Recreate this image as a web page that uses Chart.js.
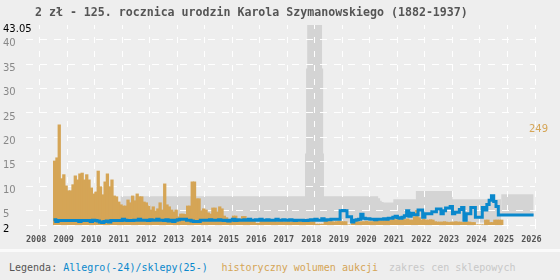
<!DOCTYPE html>
<html><head><meta charset="utf-8">
<script src="https://cdn.jsdelivr.net/npm/chart.js@4/dist/chart.umd.min.js"></script>
<style>
html,body{margin:0;padding:0;background:#eeeeee;}
#wrap{position:relative;width:560px;height:280px;overflow:hidden;background:#eeeeee;}
#c{position:absolute;left:0;top:0;}
#title{position:absolute;left:35px;top:5px;font:bold 11.6px/14px "DejaVu Sans Mono",monospace;color:#555;white-space:pre;}
#strip{position:absolute;left:0;top:249px;width:560px;height:3px;background:#fafafa;}
.lg{position:absolute;top:262px;font:10px/12px "DejaVu Sans Mono",monospace;white-space:pre;}
</style></head><body>
<div id="wrap">
<canvas id="c" width="560" height="249"></canvas>
<div id="title">2 zł - 125. rocznica urodzin Karola Szymanowskiego (1882-1937)</div>
<div id="strip"></div>
<div class="lg" style="left:9px;color:#555">Legenda: <span style="color:#0a88cc">Allegro(-24)/sklepy(25-)</span></div>
<div class="lg" style="left:221.5px;color:#d5a556">historyczny wolumen aukcji</div>
<div class="lg" style="left:389px;color:#c8c8c8">zakres cen sklepowych</div>
</div>
<script>
// ---- data ----
const yearTicks = [2008,2009,2010,2011,2012,2013,2014,2015,2016,2017,2018,2019,2020,2021,2022,2023,2024,2025,2026];
const priceTicks = [2,5,10,15,20,25,30,35,40,43.05];
const volumeTicks = [249];
const firstMonthYear = 2009; // monthly series start January 2009

// auction volume per month, 2009-01 .. 2025-04
const auctionVolume = [
  159,167,249,115,125,97,85,85,100,122,112,127,   // 2009
  129,112,125,112,92,77,82,134,95,75,107,127,     // 2010
  95,112,72,70,57,50,47,47,62,55,72,60,           // 2011
  77,70,70,57,55,47,37,45,35,40,55,37,            // 2012
  102,50,45,37,32,37,20,27,27,26,47,47,           // 2013
  107,107,65,65,35,40,37,30,27,42,42,32,          // 2014
  45,40,22,18,10,10,22,22,12,12,21,21,            // 2015
  10,10,10,10,4,4,10,10,10,10,10,10,              // 2016
  9,7,8,10,7,8,9,6,8,9,7,8,                       // 2017
  8,7,9,8,8,8,2,2,2,2,8,8,                        // 2018
  8,8,7,8,9,8,8,8,0,0,8,8,                        // 2019
  8,7,8,8,9,8,8,8,10,10,10,10,                    // 2020
  10,12,10,12,15,12,14,12,15,13,15,12,            // 2021
  12,20,36,18,12,14,12,12,13,12,8,7,              // 2022
  7,7,8,7,6,7,7,8,7,7,6,7,                        // 2023
  7,7,6,6,0,0,0,0,12,12,6,6,                      // 2024
  12,12,12,12                                     // 2025
];

// Allegro price per month, 2009-01 .. 2025-03
const allegroPrice = [
  3.1,3.1,2.7,2.9,2.9,2.9,2.9,2.9,2.9,2.9,2.9,2.9,
  2.7,2.9,2.9,2.9,2.9,2.7,3.0,2.9,2.8,2.6,2.5,2.7,
  2.8,2.6,2.9,2.9,2.9,2.9,2.9,3.2,3.0,2.9,2.9,2.9,
  3.0,3.0,3.2,3.0,3.0,3.0,2.9,3.1,3.0,3.0,3.2,3.0,
  3.0,2.9,3.1,2.8,3.0,2.7,3.0,3.1,3.2,3.2,3.2,3.0,
  3.0,2.8,2.7,2.7,2.7,3.0,3.0,3.0,3.0,3.1,3.0,3.0,
  3.0,3.1,3.0,2.9,3.0,2.8,3.0,3.2,2.9,3.1,3.0,3.0,
  3.1,3.0,3.2,3.0,3.0,3.1,3.0,3.2,3.0,3.0,3.1,3.0,
  3.0,3.0,3.2,3.0,3.0,3.1,3.0,3.0,3.1,3.0,2.9,3.0,
  3.0,3.0,2.9,2.9,3.0,3.1,3.0,3.2,3.0,3.0,3.3,3.0,
  3.1,3.1,3.2,3.2,3.2,3.2,4.9,5.0,4.9,3.7,3.7,2.6,
  3.0,3.1,3.2,4.2,3.4,3.3,3.3,3.2,3.2,3.1,3.2,3.2,
  3.2,3.3,3.2,3.4,3.4,3.6,3.8,3.5,3.4,3.6,3.9,4.9,
  3.8,4.4,4.1,4.1,5.1,5.1,3.6,4.3,4.3,4.3,4.7,4.7,
  5.3,5.3,4.3,4.9,5.5,5.5,5.8,4.3,4.6,4.6,5.2,5.6,
  3.0,4.3,4.3,5.6,5.6,3.6,3.6,3.6,5.6,5.1,6.2,7.1,
  8.0,6.8,5.8
];

// shop price (2025 onward)
const shopX = [2025.25, 2026.45];
const shopPrice = [4.05, 4.05];

// shop price range band: upper edge (each value holds until the next x)
const bandX   = [2011.43,2018.14,2018.18,2018.22,2018.76,2018.80,2018.83,2020.80,2020.87,2020.93,2021.00,2021.35,2022.17,2023.50,2025.27,2026.45];
const bandMax = [7.9,   16.7,   34.1,   43.05,  34.1,   16.7,   7.9,    7.5,    7.0,    6.7,    6.6,    7.3,    9.0,    7.3,    8.3,    8.3];
// lower edge of the band, per period starting at bandFloorX
const bandFloorX = [2011.43, 2025.27];
const bandFloor  = [2.5, 4.05];

// ---- build datasets ----
const barPoints = auctionVolume.map((v,i)=>({x: firstMonthYear + (i+0.5)/12, y: v}));
const linePoints = allegroPrice.map((v,i)=>({x: firstMonthYear + i/12, y: v}))
  .concat(shopX.map((x,i)=>({x, y: shopPrice[i]})));

const BLUE = '#0a88cc', ORANGE = '#d5a556', GRAY = '#d4d4d4';

function bandPart(k) {
  const from = bandFloorX[k];
  const to = k + 1 < bandFloorX.length ? bandFloorX[k+1] : Infinity;
  const pts = [];
  for (let i = 0; i < bandX.length; i++) {
    if (bandX[i] < from || bandX[i] > to) continue;
    pts.push({x: bandX[i], y: bandMax[i]});
    if (i < bandX.length - 1 && bandX[i+1] <= to) pts.push({x: bandX[i+1], y: bandMax[i]});
  }
  return {type: 'line', data: pts, borderWidth: 0, borderDash: [4, 4], borderColor: 'rgba(0,0,0,0)',
          pointRadius: 0, tension: 0, fill: {value: bandFloor[k]}, backgroundColor: GRAY, yAxisID: 'y'};
}
const bandDatasets = bandFloorX.map((_, k) => bandPart(k));

new Chart(document.getElementById('c'), {
  type: 'line',
  data: {
    datasets: [
      {type:'line', data: linePoints, borderColor: BLUE, borderWidth: 3, pointRadius: 0, stepped: 'after', fill: false, yAxisID: 'y', borderCapStyle:'butt', borderJoinStyle:'miter'},
      {type:'bar', data: barPoints, backgroundColor: ORANGE, borderWidth: 0, barPercentage: 1, categoryPercentage: 1, inflateAmount: 0.5, yAxisID: 'y2', grouped: false}
    ].concat(bandDatasets)
  },
  options: {
    responsive: false,
    animation: false,
    events: [],
    layout: {padding: {top: 25, left: 3, right: 0, bottom: 0}},
    plugins: {legend: {display: false}, tooltip: {enabled: false}, title: {display: false}, filler: {drawTime: 'beforeDraw'}},
    scales: {
      x: {
        type: 'linear', min: 2008, max: 2026.5, offset: false,
        afterBuildTicks: s => { s.ticks = yearTicks.map(v => ({value: v})); },
        afterFit: s => { s.height = 24; },
        grid: {color: '#ffffff', lineWidth: 1, drawTicks: true, tickLength: 4, tickBorderDash: [], tickColor: '#ffffff'},
        border: {display: false, dash: [6, 8], dashOffset: 2},
        ticks: {align: 'start', padding: 6, maxRotation: 0, autoSkip: false, color: '#555',
          font: {family: 'DejaVu Sans Mono', size: 8.5, weight: 'bold'}, callback: v => String(v)}
      },
      y: {
        type: 'linear', position: 'left', min: 2, max: 43.05,
        afterBuildTicks: s => { s.ticks = priceTicks.map(v => ({value: v})); },
        afterFit: s => { s.width = 23; },
        grid: {color: c => (c.tick && c.tick.value === 43.05) ? 'rgba(0,0,0,0)' : '#ffffff', lineWidth: 1, drawTicks: false},
        border: {display: false, dash: [7, 7]},
        ticks: {mirror: true, crossAlign: 'near', labelOffset: 4, padding: -23, autoSkip: false,
          font: {family: 'DejaVu Sans', size: 10},
          color: c => (c.tick.value === 43.05 || c.tick.value === 2) ? '#000' : '#888',
          callback: v => String(v)}
      },
      y2: {
        type: 'linear', position: 'right', min: 0, max: 498,
        afterBuildTicks: s => { s.ticks = volumeTicks.map(v => ({value: v})); },
        afterFit: s => { s.width = 25; },
        grid: {display: false, drawTicks: false},
        border: {display: false},
        ticks: {mirror: true, crossAlign: 'near', padding: 13, labelOffset: 4, color: ORANGE,
          font: {family: 'DejaVu Sans', size: 10}, callback: v => String(v)}
      }
    }
  }
});
</script>
</body></html>
